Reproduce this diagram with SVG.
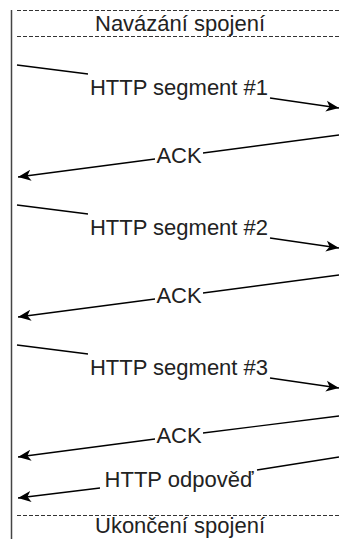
<svg xmlns="http://www.w3.org/2000/svg" width="339" height="539" viewBox="0 0 339 539">
<style>
  .t { font-family: "Liberation Sans", Arial, Helvetica, sans-serif; font-size: 22px; fill: #222; text-anchor: middle; }
  .e { stroke: #000; stroke-width: 1.4; fill: none; }
  .d { stroke: #333; stroke-width: 1.2; stroke-dasharray: 4 2; fill: none; }
</style>
<defs>
  <marker id="arr" markerUnits="userSpaceOnUse" markerWidth="14" markerHeight="12" refX="13" refY="5.5" orient="auto" viewBox="0 0 14 11">
    <path d="M0,0 L13,5.5 L0,11 L3.5,5.5 z" fill="#000"/>
  </marker>
</defs>
<rect width="339" height="539" fill="#fff"/>
<g id="lifeline">
  <line x1="11.5" y1="10" x2="11.5" y2="539" stroke="#444" stroke-width="1.5"/>
</g>
<g id="navazani">
  <line class="d" x1="17" y1="10.5" x2="339" y2="10.5"/>
  <line class="d" x1="17" y1="36.5" x2="339" y2="36.5"/>
  <text class="t" x="180" y="31">Navázání spojení</text>
</g>
<g id="ukonceni">
  <line class="d" x1="17" y1="515.5" x2="339" y2="515.5"/>
  <text class="t" x="180" y="533">Ukončení spojení</text>
</g>
<g id="connectors">
  <g id="seg1">
    <line class="e" x1="17" y1="65" x2="88" y2="74"/>
    <line class="e" x1="270" y1="98" x2="339" y2="108" marker-end="url(#arr)"/>
    <text class="t" x="179" y="95">HTTP segment #1</text>
  </g>
  <g id="ack1">
    <line class="e" x1="339" y1="135" x2="203" y2="153"/>
    <line class="e" x1="155" y1="159" x2="18" y2="177" marker-end="url(#arr)"/>
    <text class="t" x="179" y="163">ACK</text>
  </g>
  <g id="seg2">
    <line class="e" x1="17" y1="205" x2="88" y2="214"/>
    <line class="e" x1="270" y1="238" x2="339" y2="248" marker-end="url(#arr)"/>
    <text class="t" x="179" y="235">HTTP segment #2</text>
  </g>
  <g id="ack2">
    <line class="e" x1="339" y1="275" x2="203" y2="293"/>
    <line class="e" x1="155" y1="299" x2="18" y2="317" marker-end="url(#arr)"/>
    <text class="t" x="179" y="303">ACK</text>
  </g>
  <g id="seg3">
    <line class="e" x1="17" y1="345" x2="88" y2="354"/>
    <line class="e" x1="270" y1="378" x2="339" y2="388" marker-end="url(#arr)"/>
    <text class="t" x="179" y="375">HTTP segment #3</text>
  </g>
  <g id="ack3">
    <line class="e" x1="339" y1="416" x2="203" y2="433"/>
    <line class="e" x1="155" y1="439" x2="18" y2="457" marker-end="url(#arr)"/>
    <text class="t" x="179" y="443">ACK</text>
  </g>
  <g id="odpoved">
    <line class="e" x1="339" y1="457" x2="257" y2="470"/>
    <line class="e" x1="100" y1="488" x2="18" y2="498" marker-end="url(#arr)"/>
    <text class="t" x="179" y="487">HTTP odpověď</text>
  </g>
</g>
</svg>
